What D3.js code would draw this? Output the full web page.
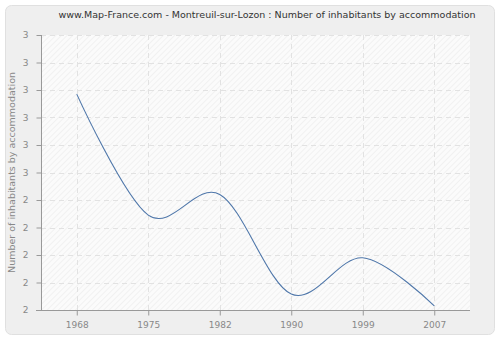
<!DOCTYPE html>
<html>
<head>
<meta charset="utf-8">
<script src="https://cdn.jsdelivr.net/npm/d3@7"></script>
<style>
body { margin: 0; background: #fff; }
text { font-family: "DejaVu Sans", Verdana, sans-serif; }
</style>
</head>
<body>
<div id="chart"></div>
<script>
var years = ["1968", "1975", "1982", "1990", "1999", "2007"];
var values = [2.785, 2.345, 2.42, 2.058, 2.19, 2.015];
var yTicks = [2, 2.1, 2.2, 2.3, 2.4, 2.5, 2.6, 2.7, 2.8, 2.9, 3];

var width = 500, height = 340;
var margin = {top: 35, right: 30, bottom: 30, left: 41};

var svg = d3.select("#chart").append("svg")
    .attr("width", width)
    .attr("height", height);

// hatch for the plot background
var defs = svg.append("defs");
var pat = defs.append("pattern")
    .attr("id", "hatch")
    .attr("patternUnits", "userSpaceOnUse")
    .attr("width", 4).attr("height", 4)
    .attr("patternTransform", "rotate(45)");
pat.append("rect").attr("width", 4).attr("height", 4).attr("fill", "#fbfbfb");
pat.append("line")
    .attr("x1", 0).attr("y1", 0).attr("x2", 0).attr("y2", 4)
    .attr("stroke", "#e8e8e8").attr("stroke-width", 1);

// outer panel
svg.append("rect")
    .attr("x", 5.5).attr("y", 5.5)
    .attr("width", 489).attr("height", 329)
    .attr("rx", 6)
    .attr("fill", "#efefef")
    .attr("stroke", "#e0e0e0");

var x = d3.scalePoint()
    .domain(years)
    .range([margin.left, width - margin.right])
    .padding(0.5);

var y = d3.scaleLinear()
    .domain([2, 3])
    .range([height - margin.bottom, margin.top]);

svg.append("rect")
    .attr("x", margin.left).attr("y", margin.top)
    .attr("width", width - margin.right - margin.left)
    .attr("height", height - margin.bottom - margin.top)
    .attr("fill", "url(#hatch)");

// grid
svg.append("g").selectAll("line")
    .data(yTicks)
    .enter().append("line")
    .attr("x1", margin.left).attr("x2", width - margin.right)
    .attr("y1", function(d) { return Math.round(y(d)) + 0.5; })
    .attr("y2", function(d) { return Math.round(y(d)) + 0.5; })
    .attr("stroke", "#e2e2e2")
    .attr("stroke-dasharray", "5,4");

svg.append("g").selectAll("line")
    .data(years)
    .enter().append("line")
    .attr("x1", function(d) { return Math.round(x(d)) + 0.5; })
    .attr("x2", function(d) { return Math.round(x(d)) + 0.5; })
    .attr("y1", margin.top).attr("y2", height - margin.bottom)
    .attr("stroke", "#e2e2e2")
    .attr("stroke-dasharray", "5,4");

// axes
var yAxis = svg.append("g")
    .attr("transform", "translate(" + (margin.left + 0.5) + ",0)")
    .call(d3.axisLeft(y).tickValues(yTicks).tickSize(5).tickPadding(8)
        .tickFormat(function(d) { return d3.format(".0f")(d); }));

var xAxis = svg.append("g")
    .attr("transform", "translate(0," + (height - margin.bottom + 0.5) + ")")
    .call(d3.axisBottom(x).tickSize(5).tickPadding(6));

[xAxis, yAxis].forEach(function(a) {
    a.select(".domain").remove();
    a.selectAll(".tick line").attr("stroke", "#999");
    a.selectAll(".tick text").attr("fill", "#888").style("font-size", "9px")
        .style("font-family", "DejaVu Sans, sans-serif");
});

// axis lines drawn by hand to get the small overhang
svg.append("line")
    .attr("x1", margin.left + 0.5).attr("x2", margin.left + 0.5)
    .attr("y1", margin.top).attr("y2", height - margin.bottom)
    .attr("stroke", "#999");
svg.append("line")
    .attr("x1", margin.left - 5).attr("x2", width - margin.right)
    .attr("y1", height - margin.bottom + 0.5).attr("y2", height - margin.bottom + 0.5)
    .attr("stroke", "#999");

// line
var line = d3.line()
    .x(function(d, i) { return x(years[i]); })
    .y(function(d) { return y(d); })
    .curve(d3.curveCardinal.tension(0));

svg.append("path")
    .datum(values)
    .attr("d", line)
    .attr("fill", "none")
    .attr("stroke", "#4f77aa")
    .attr("stroke-width", 1.1);

// title
svg.append("text")
    .attr("x", 267).attr("y", 18)
    .attr("text-anchor", "middle")
    .attr("fill", "#333")
    .style("font-size", "9.5px")
    .text("www.Map-France.com - Montreuil-sur-Lozon : Number of inhabitants by accommodation");

svg.append("text")
    .attr("transform", "translate(15," + ((margin.top + height - margin.bottom) / 2) + ") rotate(-90)")
    .attr("text-anchor", "middle")
    .attr("fill", "#888")
    .style("font-size", "9.5px")
    .text("Number of inhabitants by accommodation");
</script>
</body>
</html>
